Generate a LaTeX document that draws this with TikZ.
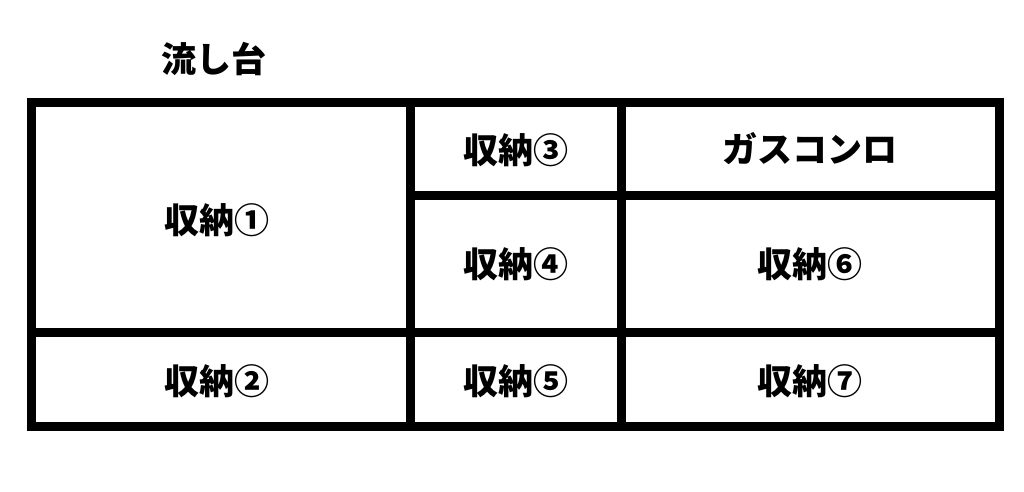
\documentclass[tikz,border=0pt]{standalone}
\usepackage{fontspec}
\newfontfamily\jp{Noto Sans CJK JP Black}
\tikzset{
  frame/.style={line width=9pt, black},
  lbl/.style={font=\jp\fontsize{35pt}{40pt}\selectfont, inner sep=0pt, anchor=center}
}
\begin{document}
\begin{tikzpicture}[x=1pt,y=-1pt]
\useasboundingbox (0,0) rectangle (1024,491);
% frame lines
\draw[frame] (31,102.5) rectangle (999.5,426);
\draw[frame] (410,102.5) -- (410,426);
\draw[frame] (621,102.5) -- (621,426);
\draw[frame] (410,195.5) -- (999.5,195.5);
\draw[frame] (31,332) -- (999.5,332);
% labels
\node[lbl] (title) at (214,59) {流し台};
\node[lbl] (s1) at (217,220) {収納①};
\node[lbl] (s2) at (217,381) {収納②};
\node[lbl] (s3) at (515.5,150) {収納③};
\node[lbl] (gas) at (810,149) {ガスコンロ};
\node[lbl] (s4) at (515.5,264) {収納④};
\node[lbl] (s6) at (810,264) {収納⑥};
\node[lbl] (s5) at (515.5,381) {収納⑤};
\node[lbl] (s7) at (810,381) {収納⑦};
\end{tikzpicture}
\end{document}
